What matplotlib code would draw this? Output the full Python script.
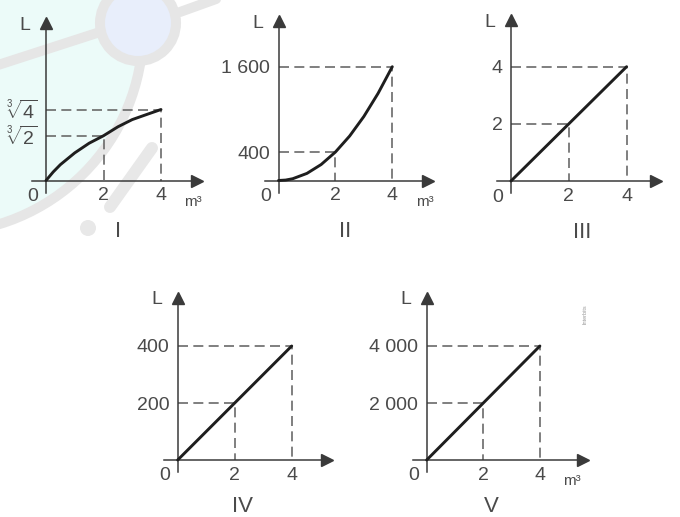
import numpy as np
import matplotlib
matplotlib.use("Agg")
import matplotlib.pyplot as plt
from matplotlib.patches import Circle

plt.rcParams['font.family'] = ['Liberation Sans', 'DejaVu Sans']
plt.rcParams['mathtext.fontset'] = 'custom'
plt.rcParams['mathtext.rm'] = 'Liberation Sans'
plt.rcParams['mathtext.it'] = 'Liberation Sans:italic'

# ---- data ----
volume_ticks = [2, 4]
curve_v = [0, 0.25, 0.5, 1, 1.5, 2, 2.5, 3, 3.5, 4]
curve_I = [0, 0.55, 0.75, 0.99, 1.15, 1.26, 1.38, 1.47, 1.53, 1.587]
curve_II = [0, 6, 25, 100, 225, 400, 625, 900, 1225, 1600]
line_v = [0, 2, 4]
line_III = [0, 2, 4]
line_IV = [0, 200, 400]
line_V = [0, 2000, 4000]

ticks_I = [1.26, 1.587]
labels_I = [r'$\sqrt[3]{2}$', r'$\sqrt[3]{4}$']
ticks_II = [400, 1600]
labels_II = ['400', '1 600']
ticks_III = [2, 4]
labels_III = ['2', '4']
ticks_IV = [200, 400]
labels_IV = ['200', '400']
ticks_V = [2000, 4000]
labels_V = ['2 000', '4 000']
numerals = ['I', 'II', 'III', 'IV', 'V']

W, H = 680, 517
PT = 0.72  # points per pixel at dpi 100
AX_COLOR = '#3a3a3a'
TXT = '#4a4a4a'
GRID = '#6a6a6a'

fig = plt.figure(figsize=(6.8, 5.17), dpi=100)

# ---- faint watermark in the background ----
bg = fig.add_axes([0, 0, 1, 1], zorder=-5)
bg.set_xlim(0, W)
bg.set_ylim(H, 0)
bg.axis('off')
bg.add_patch(Circle((-60, 30), 203, facecolor='#ecfbf9', edgecolor='#e6e6e6', lw=10 * PT))
bg.plot([-5, 100], [66, 32], color='#e6e6e6', lw=10 * PT, solid_capstyle='round')
bg.plot([180, 230], [12, -6], color='#e6e6e6', lw=10 * PT, solid_capstyle='round')
bg.add_patch(Circle((138, 23), 38, facecolor='#e8eefb', edgecolor='#e6e6e6', lw=10 * PT))
bg.plot([152, 110], [148, 207], color='#e8e8e8', lw=12 * PT, solid_capstyle='round')
bg.add_patch(Circle((88, 228), 8, facecolor='#e8e8e8', edgecolor='none'))
bg.text(585, 314, 'Interbits', rotation=90, fontsize=4, color='#9a9a9a', ha='center', va='center')


def sq(y):
    y = np.asarray(y, dtype=float)
    return np.sign(y) * y ** 2


def sq_inv(y):
    y = np.asarray(y, dtype=float)
    return np.sign(y) * np.sqrt(np.abs(y))


def panel(ox, oy, sx, xtip, ytip, ky, xs, ys, yticks, ylabels, name,
          mx, nx, ndy, squared=False):
    left = ox - 14
    right = xtip - 5.5
    top = ytip + 5.5
    bottom = oy + 12
    ax = fig.add_axes([left / W, 1 - bottom / H, (right - left) / W, (bottom - top) / H])
    ax.patch.set_alpha(0)
    ax.set_xlim(-14 / sx, (right - ox) / sx)
    if squared:
        # the L axis in drawing I is stretched: drawn height grows like L squared
        ax.set_yscale('function', functions=(sq, sq_inv))
        ax.set_ylim(float(sq_inv(-12 / ky)), float(sq_inv((oy - top) / ky)))
    else:
        ax.set_ylim(-12 / ky, (oy - top) / ky)

    for s in ['top', 'right']:
        ax.spines[s].set_visible(False)
    ax.spines['left'].set_position(('data', 0))
    ax.spines['bottom'].set_position(('data', 0))
    for s in ['left', 'bottom']:
        ax.spines[s].set_color(AX_COLOR)
        ax.spines[s].set_linewidth(1.1)
    ax.plot(1, 0, '>', color=AX_COLOR, ms=8, transform=ax.get_yaxis_transform(), clip_on=False)
    ax.plot(0, 1, '^', color=AX_COLOR, ms=8, transform=ax.get_xaxis_transform(), clip_on=False)

    ax.set_xticks(volume_ticks, [str(v) for v in volume_ticks])
    ax.set_yticks(yticks, ylabels)
    ax.minorticks_off()
    ax.tick_params(length=0, labelsize=14, labelcolor=TXT)
    ax.tick_params(axis='x', pad=5)
    ax.tick_params(axis='y', pad=6)

    # dashed guides
    for v, l in zip(volume_ticks, yticks):
        ax.plot([0, v, v], [l, l, 0], color=GRID, lw=1.2, dashes=(6, 3.2), zorder=2)

    ax.plot(xs, ys, color='#1e1e1e', lw=2.1, solid_joinstyle='round',
            solid_capstyle='round', zorder=3, clip_on=False)

    ax.annotate('0', xy=(0, 0), xytext=(-13 * PT, -16 * PT), textcoords='offset points',
                ha='center', va='center', fontsize=14, color=TXT)
    ax.annotate('L', xy=(0, 1), xycoords=ax.get_xaxis_transform(),
                xytext=(-21 * PT, -2.5 * PT), textcoords='offset points',
                ha='center', va='center', fontsize=14, color=TXT)
    ax.annotate('m³', xy=(mx, 0), xytext=(0, -21 * PT), textcoords='offset points',
                ha='center', va='center', fontsize=11, color=TXT)
    ax.annotate(name, xy=(nx, 0), xytext=(0, -ndy * PT), textcoords='offset points',
                ha='center', va='center', fontsize=16, color=TXT)
    return ax


panel(46, 180.5, 28.75, 203, 17, 71 / sq(1.587), curve_v, curve_I, ticks_I, labels_I,
      numerals[0], 5.1, 2.5, 51, squared=True)
panel(278.5, 180.5, 28.45, 433, 15, 113.8 / 1600, curve_v, curve_II, ticks_II, labels_II,
      numerals[1], 5.15, 2.34, 51)
panel(511, 181, 28.9, 662, 15, 114.3 / 4, line_v, line_III, ticks_III, labels_III,
      numerals[2], 5.09, 2.46, 51)
panel(177.7, 460, 28.5, 332, 292, 114 / 400, line_v, line_IV, ticks_IV, labels_IV,
      numerals[3], 5.34, 2.29, 47)
panel(426.7, 460, 28.3, 588, 292, 114 / 4000, line_v, line_V, ticks_V, labels_V,
      numerals[4], 5.12, 2.3, 47)

fig.savefig('out.png', dpi=100)
